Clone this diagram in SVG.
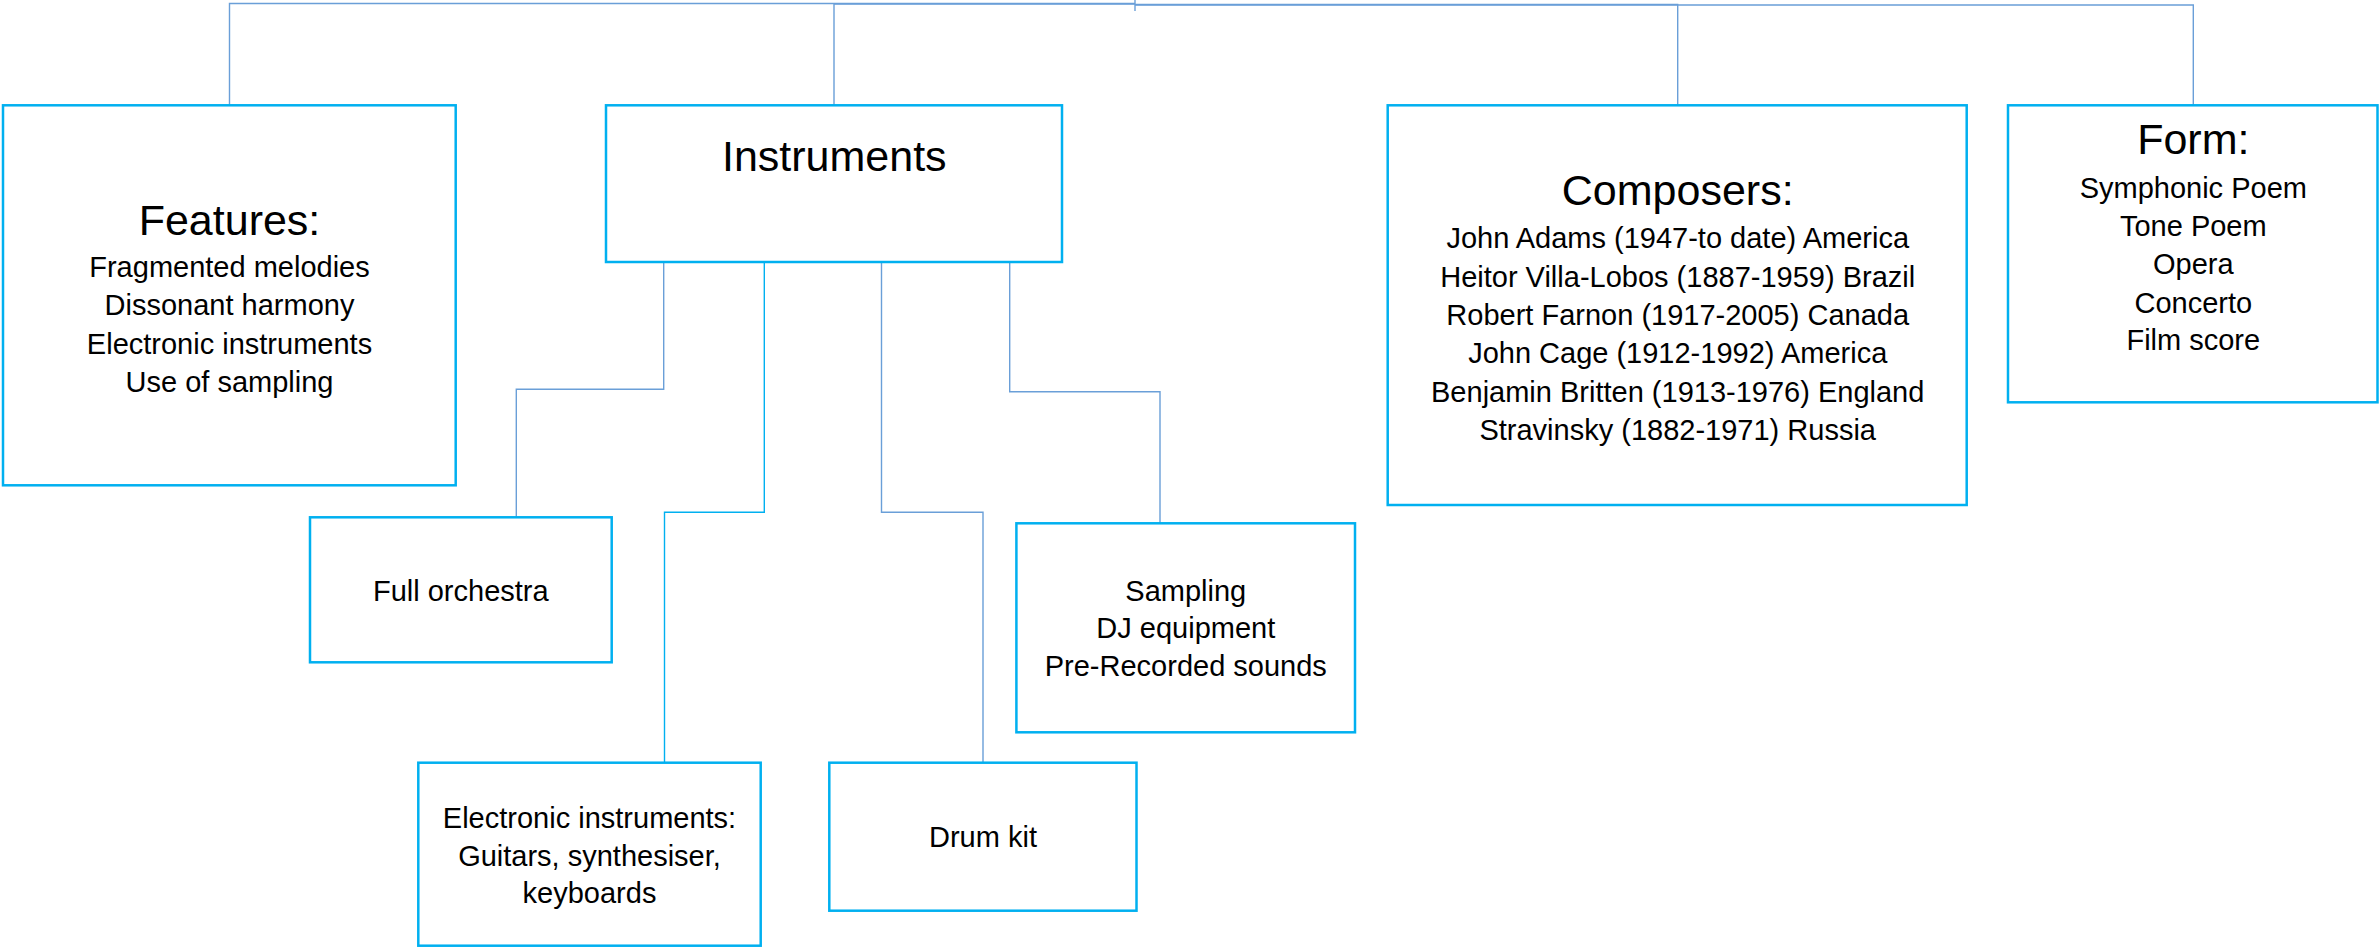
<svg xmlns="http://www.w3.org/2000/svg" width="2379" height="947" viewBox="0 0 2379 947">
<style>
.box{fill:#ffffff;stroke:#00b0f0;stroke-width:2.5}
.conn{fill:none;stroke:#6a9fd8;stroke-width:1.4}
.conn2{fill:none;stroke:#00b0f0;stroke-width:1.4}
text{font-family:"Liberation Sans",Arial,sans-serif;fill:#000;text-anchor:middle}
.h{font-size:43px}
.b{font-size:29px}
</style>
<rect width="2379" height="947" fill="#ffffff"/>
<g id="connectors">
<path class="conn" d="M1135 0 V11"/>
<path class="conn" d="M1135 3.5 H229.5 V105"/>
<path class="conn" d="M1135 4 H834 V105"/>
<path class="conn" d="M1135 4.5 H1677.7 V105"/>
<path class="conn" d="M1135 5 H2193.3 V105"/>
<path class="conn" d="M663.7 262 V389.3 H516.3 V517"/>
<path class="conn2" d="M764.3 262 V512.3 H664.5 V762"/>
<path class="conn" d="M881.5 262 V512.3 H983 V762"/>
<path class="conn" d="M1009.7 262 V391.7 H1160 V523"/>
</g>
<g id="features">
<rect class="box" x="3" y="105.3" width="452.7" height="380"/>
<text class="h" x="229.5" y="235">Features:</text>
<text class="b" x="229.5" y="276.7">Fragmented melodies</text>
<text class="b" x="229.5" y="315">Dissonant harmony</text>
<text class="b" x="229.5" y="354.3">Electronic instruments</text>
<text class="b" x="229.5" y="391.7">Use of sampling</text>
</g>
<g id="instruments">
<rect class="box" x="606" y="105.3" width="456" height="156.7"/>
<text class="h" x="834.3" y="171">Instruments</text>
</g>
<g id="composers">
<rect class="box" x="1387.7" y="105.3" width="579" height="399.7"/>
<text class="h" x="1677.7" y="205">Composers:</text>
<text class="b" x="1677.7" y="248.3">John Adams (1947-to date) America</text>
<text class="b" x="1677.7" y="286.7">Heitor Villa-Lobos (1887-1959) Brazil</text>
<text class="b" x="1677.7" y="325">Robert Farnon (1917-2005) Canada</text>
<text class="b" x="1677.7" y="363.3">John Cage (1912-1992) America</text>
<text class="b" x="1677.7" y="401.7">Benjamin Britten (1913-1976) England</text>
<text class="b" x="1677.7" y="440">Stravinsky (1882-1971) Russia</text>
</g>
<g id="form">
<rect class="box" x="2008" y="105.3" width="369.5" height="297"/>
<text class="h" x="2193.3" y="154">Form:</text>
<text class="b" x="2193.3" y="197.7">Symphonic Poem</text>
<text class="b" x="2193.3" y="235.7">Tone Poem</text>
<text class="b" x="2193.3" y="274.3">Opera</text>
<text class="b" x="2193.3" y="312.7">Concerto</text>
<text class="b" x="2193.3" y="350.3">Film score</text>
</g>
<g id="full-orchestra">
<rect class="box" x="310" y="517.3" width="301.7" height="145"/>
<text class="b" x="460.8" y="600.7">Full orchestra</text>
</g>
<g id="electronic">
<rect class="box" x="418.3" y="762.7" width="342.4" height="183"/>
<text class="b" x="589.5" y="827.7">Electronic instruments:</text>
<text class="b" x="589.5" y="866">Guitars, synthesiser,</text>
<text class="b" x="589.5" y="903.3">keyboards</text>
</g>
<g id="drum-kit">
<rect class="box" x="829.3" y="762.7" width="307.2" height="148"/>
<text class="b" x="983" y="847.3">Drum kit</text>
</g>
<g id="sampling">
<rect class="box" x="1016.4" y="523.3" width="338.6" height="209"/>
<text class="b" x="1185.8" y="600.7">Sampling</text>
<text class="b" x="1185.8" y="638.3">DJ equipment</text>
<text class="b" x="1185.8" y="676">Pre-Recorded sounds</text>
</g>
</svg>
